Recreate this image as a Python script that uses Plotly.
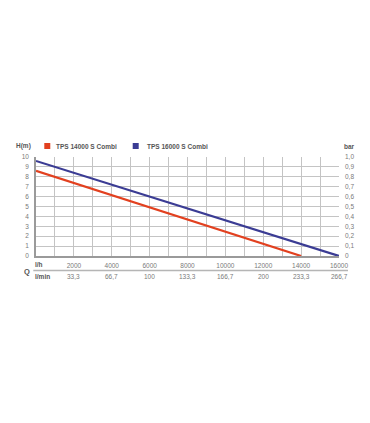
import plotly.graph_objects as go

# Data
flow_lh = [0, 2000, 4000, 6000, 8000, 10000, 12000, 14000, 16000]
flow_lmin_labels = ["33,3", "66,7", "100", "133,3", "166,7", "200", "233,3", "266,7"]
flow_lh_ticks = [2000, 4000, 6000, 8000, 10000, 12000, 14000, 16000]
tps14000_q = [0, 14000]
tps14000_h = [8.6, 0]
tps16000_q = [0, 16000]
tps16000_h = [9.6, 0]
h_ticks = list(range(0, 11))
bar_ticks = [i / 10 for i in range(0, 11)]
bar_labels = ["0", "0,1", "0,2", "0,3", "0,4", "0,5", "0,6", "0,7", "0,8", "0,9", "1,0"]

RED = "#e2401f"
BLUE = "#3b3c94"
GRID = "#c4c4c4"
AXIS = "#9a9a9a"
TXT = "#7a7a7a"
DARK = "#555555"
FONT = "Liberation Sans, Arial, sans-serif"

OFF = 8  # page body margin
W, H = 370, 423
PL, PR, PT, PB = 35.7, 339, 157, 256  # plot area in screenshot pixels
L = PL - OFF
T = PT - OFF
R = W - (PR - OFF)
B = H - (PB - OFF)
pw = PR - PL
ph = PB - PT

def px(x):
    return (x - PL) / pw

def py(y):
    return (PB - y) / ph

fig = go.Figure()
fig.add_trace(go.Scatter(x=tps14000_q, y=tps14000_h, mode="lines", name="TPS 14000 S Combi",
                         line=dict(color=RED, width=2.2), showlegend=False))
fig.add_trace(go.Scatter(x=tps16000_q, y=tps16000_h, mode="lines", name="TPS 16000 S Combi",
                         line=dict(color=BLUE, width=2.2), showlegend=False))
fig.add_trace(go.Scatter(x=[None], y=[None], yaxis="y2", showlegend=False))

fig.update_layout(
    width=W, height=H, autosize=False,
    margin=dict(l=L, r=R, t=T, b=B),
    paper_bgcolor="white", plot_bgcolor="white",
    font=dict(family=FONT, size=6.5, color=TXT),
    xaxis=dict(range=[0, 16000], showgrid=True, gridcolor=GRID, gridwidth=1,
               tickmode="array", tickvals=flow_lh_ticks, ticktext=[str(v) for v in flow_lh_ticks],
               ticks="", ticklabelstandoff=2, showline=True, linecolor=AXIS, linewidth=1.5,
               zeroline=False,
               minor=dict(dtick=1000, tick0=0, showgrid=True, gridcolor=GRID, gridwidth=1)),
    yaxis=dict(range=[0, 10], tickmode="array", tickvals=h_ticks, ticktext=[str(v) for v in h_ticks],
               showgrid=True, gridcolor=GRID, gridwidth=1, ticks="", ticklabelstandoff=4,
               showline=True, linecolor=AXIS, linewidth=1.5, zeroline=False),
    yaxis2=dict(range=[0, 1], overlaying="y", side="right", tickmode="array", tickvals=bar_ticks,
                ticktext=bar_labels, showgrid=False, ticks="", ticklabelstandoff=5, zeroline=False,
                showline=False),
)

def note(text, x, y, xanchor="center", size=6.5, color=DARK, xref="paper"):
    return dict(text=text, x=x, y=y, xref=xref, yref="paper", xanchor=xanchor, yanchor="middle",
                showarrow=False, font=dict(size=size, color=color))

ann = [
    note("<b>H(m)</b>", px(23.5), py(146)),
    note("<b>bar</b>", px(349.5), py(146)),
    note("<b>TPS 14000 S Combi</b>", px(54), py(146), xanchor="left"),
    note("<b>TPS 16000 S Combi</b>", px(144.5), py(146), xanchor="left"),
    note("<b>l/h</b>", px(33), py(264), xanchor="left"),
    note("<b>l/min</b>", px(33), py(276.5), xanchor="left"),
    note("<b>Q</b>", px(27), py(271), size=7.5),
]
for v, lab in zip(flow_lh_ticks, flow_lmin_labels):
    ann.append(note(lab, v, py(276.5), color=TXT, xref="x"))
fig.update_layout(annotations=ann)

shapes = [
    dict(type="rect", xref="paper", yref="paper", x0=px(44), x1=px(50), y0=py(149), y1=py(143),
         fillcolor=RED, line=dict(width=0)),
    dict(type="rect", xref="paper", yref="paper", x0=px(132.5), x1=px(138.5), y0=py(149), y1=py(143),
         fillcolor=BLUE, line=dict(width=0)),
    dict(type="line", xref="paper", yref="paper", x0=px(33), x1=px(348), y0=py(270.5), y1=py(270.5),
         line=dict(color="#b5b5b5", width=1.5)),
]
fig.update_layout(shapes=shapes)

fig.write_html("out.html")
